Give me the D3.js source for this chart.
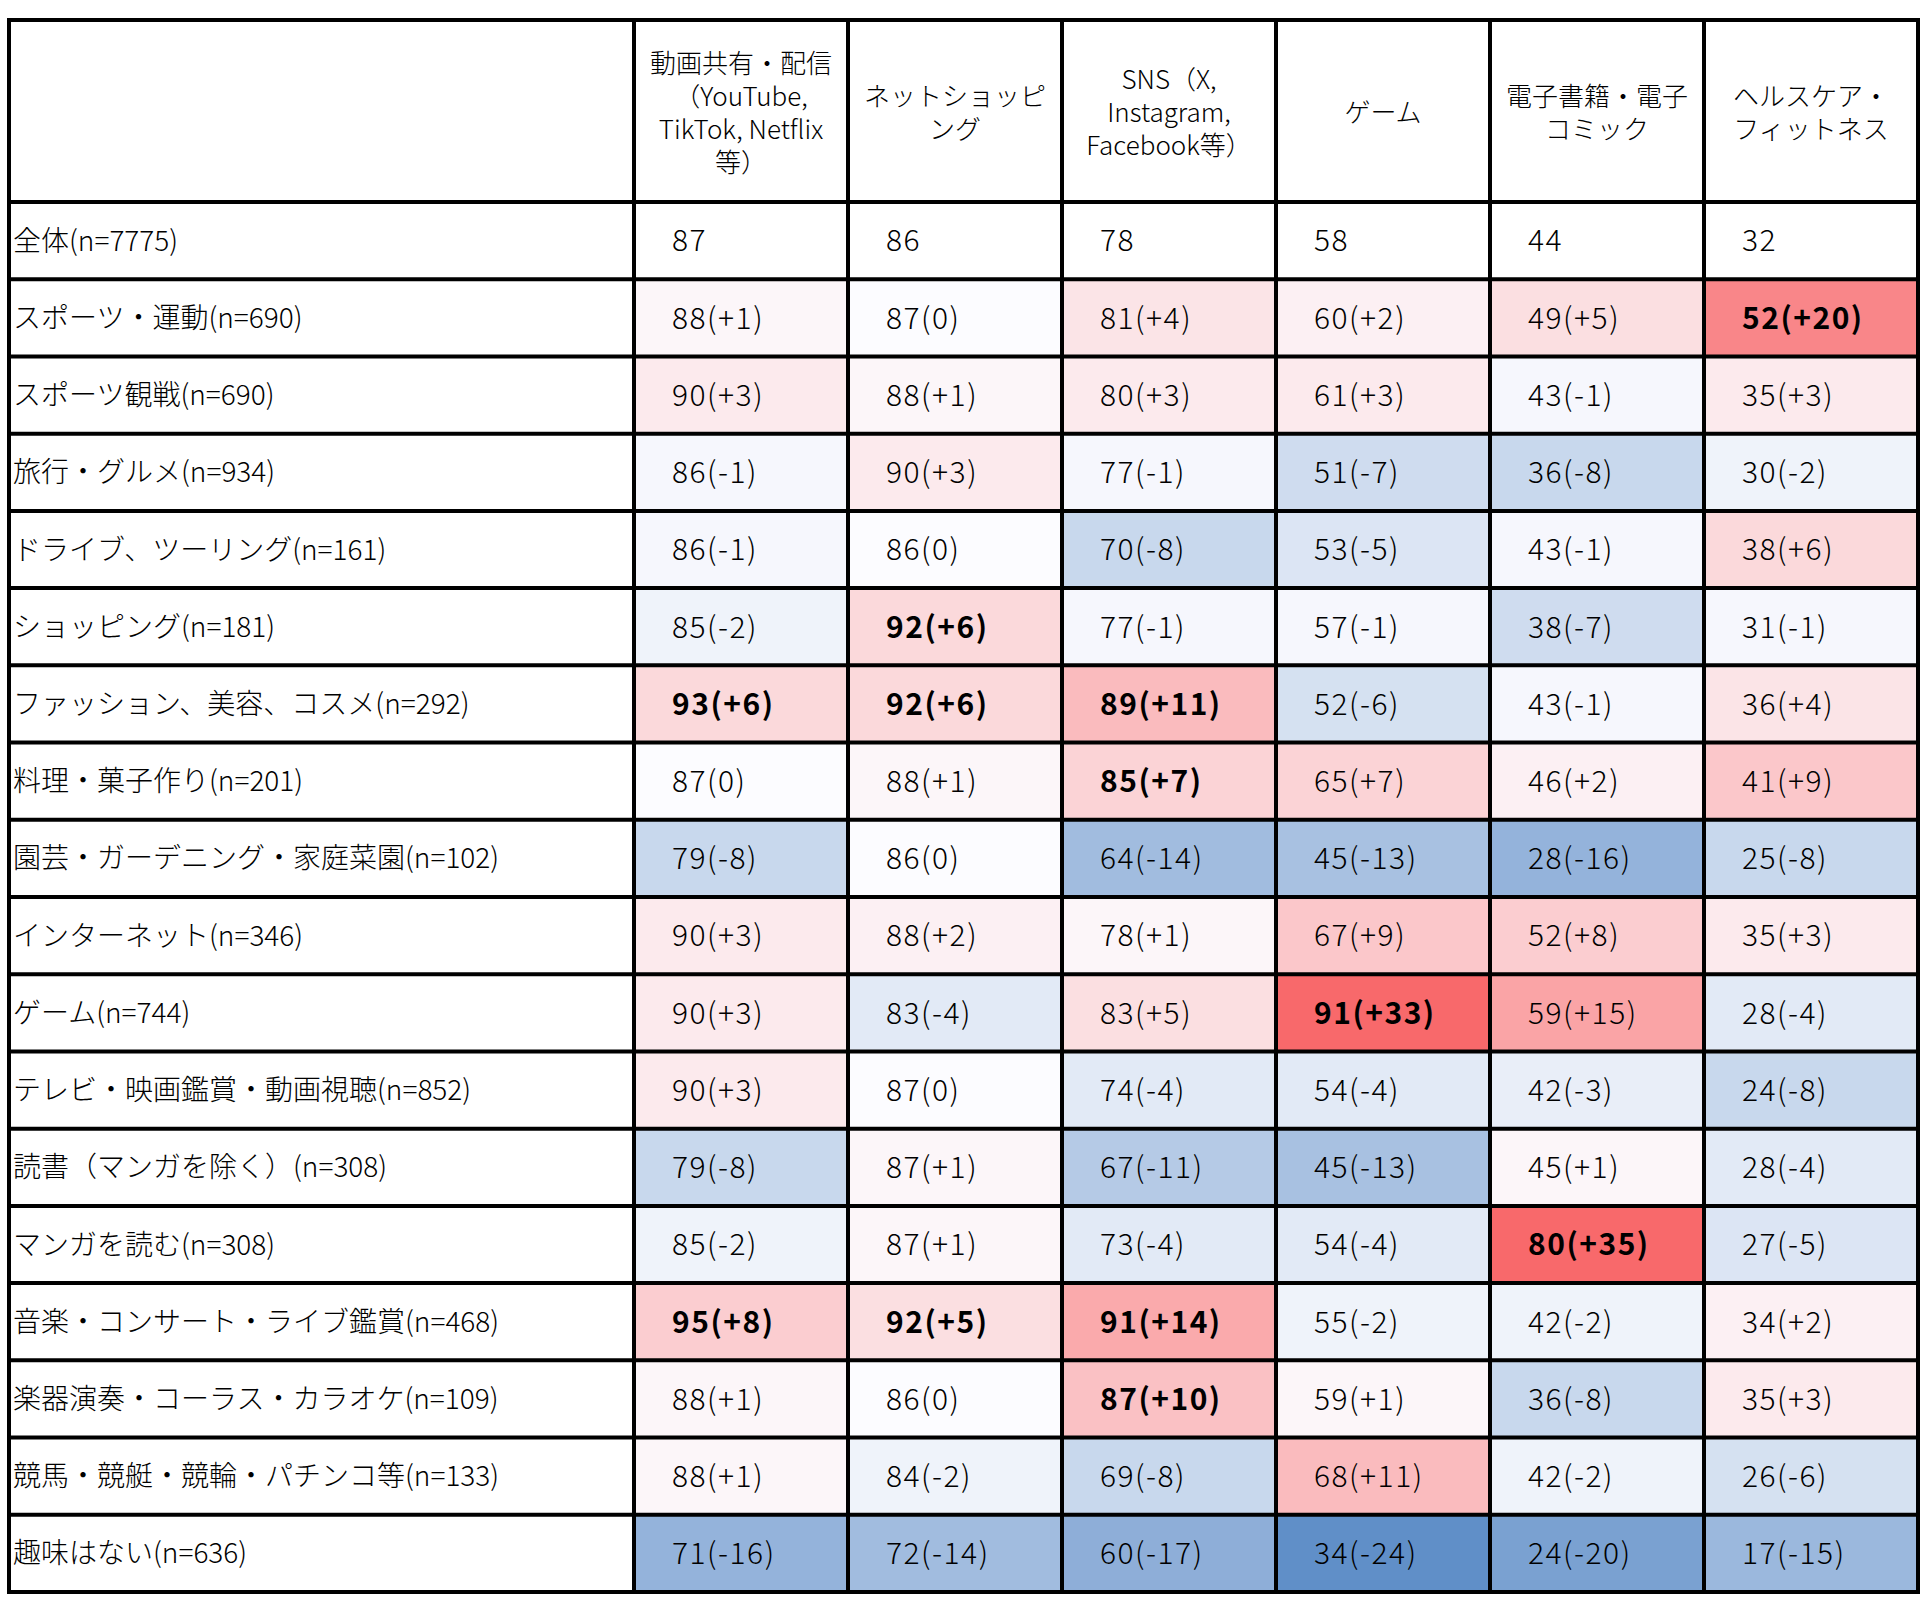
<!DOCTYPE html>
<html>
<head>
<meta charset="utf-8">
<script src="https://cdn.jsdelivr.net/npm/d3@7"></script>
<style>
  body { margin: 0; background: #fff; }
  svg text { font-family: "Noto Sans CJK JP", "Noto Sans", sans-serif; fill: #000; }
</style>
</head>
<body>
<div class="canvas"></div>
<script>
// column headers (line breaks as in the picture)
const columns = [
  '動画共有・配信\n（YouTube,\nTikTok, Netflix\n等）',
  'ネットショッピ\nング',
  'SNS（X,\nInstagram,\nFacebook等）',
  'ゲーム',
  '電子書籍・電子\nコミック',
  'ヘルスケア・\nフィットネス'
];

const rowLabels = [
  '全体(n=7775)',
  'スポーツ・運動(n=690)',
  'スポーツ観戦(n=690)',
  '旅行・グルメ(n=934)',
  'ドライブ、ツーリング(n=161)',
  'ショッピング(n=181)',
  'ファッション、美容、コスメ(n=292)',
  '料理・菓子作り(n=201)',
  '園芸・ガーデニング・家庭菜園(n=102)',
  'インターネット(n=346)',
  'ゲーム(n=744)',
  'テレビ・映画鑑賞・動画視聴(n=852)',
  '読書（マンガを除く）(n=308)',
  'マンガを読む(n=308)',
  '音楽・コンサート・ライブ鑑賞(n=468)',
  '楽器演奏・コーラス・カラオケ(n=109)',
  '競馬・競艇・競輪・パチンコ等(n=133)',
  '趣味はない(n=636)'
];

// usage share (%)
const values = [
  [87, 86, 78, 58, 44, 32],
  [88, 87, 81, 60, 49, 52],
  [90, 88, 80, 61, 43, 35],
  [86, 90, 77, 51, 36, 30],
  [86, 86, 70, 53, 43, 38],
  [85, 92, 77, 57, 38, 31],
  [93, 92, 89, 52, 43, 36],
  [87, 88, 85, 65, 46, 41],
  [79, 86, 64, 45, 28, 25],
  [90, 88, 78, 67, 52, 35],
  [90, 83, 83, 91, 59, 28],
  [90, 87, 74, 54, 42, 24],
  [79, 87, 67, 45, 45, 28],
  [85, 87, 73, 54, 80, 27],
  [95, 92, 91, 55, 42, 34],
  [88, 86, 87, 59, 36, 35],
  [88, 84, 69, 68, 42, 26],
  [71, 72, 60, 34, 24, 17]
];

// difference from 全体 (null for the 全体 row)
const diffs = [
  null,
  [1, 0, 4, 2, 5, 20],
  [3, 1, 3, 3, -1, 3],
  [-1, 3, -1, -7, -8, -2],
  [-1, 0, -8, -5, -1, 6],
  [-2, 6, -1, -1, -7, -1],
  [6, 6, 11, -6, -1, 4],
  [0, 1, 7, 7, 2, 9],
  [-8, 0, -14, -13, -16, -8],
  [3, 2, 1, 9, 8, 3],
  [3, -4, 5, 33, 15, -4],
  [3, 0, -4, -4, -3, -8],
  [-8, 1, -11, -13, 1, -4],
  [-2, 1, -4, -4, 35, -5],
  [8, 5, 14, -2, -2, 2],
  [1, 0, 10, 1, -8, 3],
  [1, -2, -8, 11, -2, -6],
  [-16, -14, -17, -24, -20, -15]
];

// cells shown in bold
const boldCells = [
  [1, 5], [5, 1], [6, 0], [6, 1], [6, 2], [7, 2],
  [10, 3], [13, 4], [14, 0], [14, 1], [14, 2], [15, 2]
];

const dims = { width: 1926, height: 1609 };
const table = { left: 9, top: 20, right: 1918, bottom: 1592, labelW: 625, headerH: 182 };

const svg = d3.select('.canvas')
  .append('svg')
  .attr('width', dims.width)
  .attr('height', dims.height);

const x = d3.scaleBand()
  .domain(d3.range(columns.length))
  .range([table.left + table.labelW, table.right]);

const y = d3.scaleBand()
  .domain(d3.range(rowLabels.length))
  .range([table.top + table.headerH, table.bottom]);

// Excel style blue - white - red scale
const color = d3.scaleLinear()
  .domain([-25, 0, 25])
  .range(['#5A8AC6', '#FCFCFF', '#F8696B'])
  .clamp(true);

const isBold = (r, c) => boldCells.some(d => d[0] === r && d[1] === c);

const fmt = d => d > 0 ? `(+${d})` : `(${d})`;

// cells
const cells = [];
values.forEach((row, r) => {
  row.forEach((v, c) => {
    const d = diffs[r] ? diffs[r][c] : null;
    cells.push({ r, c, v, d });
  });
});

const grid = svg.append('g');

// header background
grid.append('rect')
  .attr('x', table.left)
  .attr('y', table.top)
  .attr('width', table.right - table.left)
  .attr('height', table.headerH)
  .attr('fill', '#fff');

grid.selectAll('rect.cell')
  .data(cells)
  .enter()
  .append('rect')
    .attr('class', 'cell')
    .attr('x', d => x(d.c))
    .attr('y', d => y(d.r))
    .attr('width', x.bandwidth())
    .attr('height', y.bandwidth())
    .attr('fill', d => d.d === null ? '#fff' : color(d.d));

// cell texts
svg.append('g')
  .selectAll('text')
  .data(cells)
  .enter()
  .append('text')
    .attr('x', d => x(d.c) + 38)
    .attr('y', d => y(d.r) + y.bandwidth() / 2)
    .attr('dy', '0.36em')
    .attr('font-size', 30)
    .attr('letter-spacing', 1.5)
    .attr('font-weight', d => isBold(d.r, d.c) ? 700 : 300)
    .text(d => d.d === null ? d.v : d.v + fmt(d.d));

// row labels
svg.append('g')
  .selectAll('text')
  .data(rowLabels)
  .enter()
  .append('text')
    .attr('x', table.left + 4)
    .attr('y', (d, i) => y(i) + y.bandwidth() / 2)
    .attr('dy', '0.36em')
    .attr('font-size', 28)
    .attr('font-weight', 300)
    .text(d => d);

// column headers
const lineH = 33;
const headers = svg.append('g')
  .selectAll('text')
  .data(columns)
  .enter()
  .append('text')
    .attr('text-anchor', 'middle')
    .attr('font-size', 26)
    .attr('font-weight', 300);

headers.each(function(d, i) {
  const lines = d.split('\n');
  const cy = table.top + table.headerH / 2 + 2;
  const y0 = cy - (lines.length - 1) * lineH / 2;
  d3.select(this).selectAll('tspan')
    .data(lines)
    .enter()
    .append('tspan')
      .attr('x', x(i) + x.bandwidth() / 2)
      .attr('y', (l, j) => y0 + j * lineH)
      .attr('dy', '0.36em')
      .text(l => l);
});

// borders
const lines = svg.append('g')
  .attr('stroke', '#000')
  .attr('stroke-width', 4);

const hy = [table.top, table.top + table.headerH].concat(y.domain().map(i => y(i) + y.bandwidth()));
lines.selectAll('line.h')
  .data(hy)
  .enter()
  .append('line')
    .attr('class', 'h')
    .attr('x1', table.left)
    .attr('x2', table.right)
    .attr('y1', d => d)
    .attr('y2', d => d);

const vx = [table.left, table.left + table.labelW].concat(x.domain().map(i => x(i) + x.bandwidth()));
lines.selectAll('line.v')
  .data(vx)
  .enter()
  .append('line')
    .attr('class', 'v')
    .attr('x1', d => d)
    .attr('x2', d => d)
    .attr('y1', table.top - 2)
    .attr('y2', table.bottom + 2);
</script>
</body>
</html>
